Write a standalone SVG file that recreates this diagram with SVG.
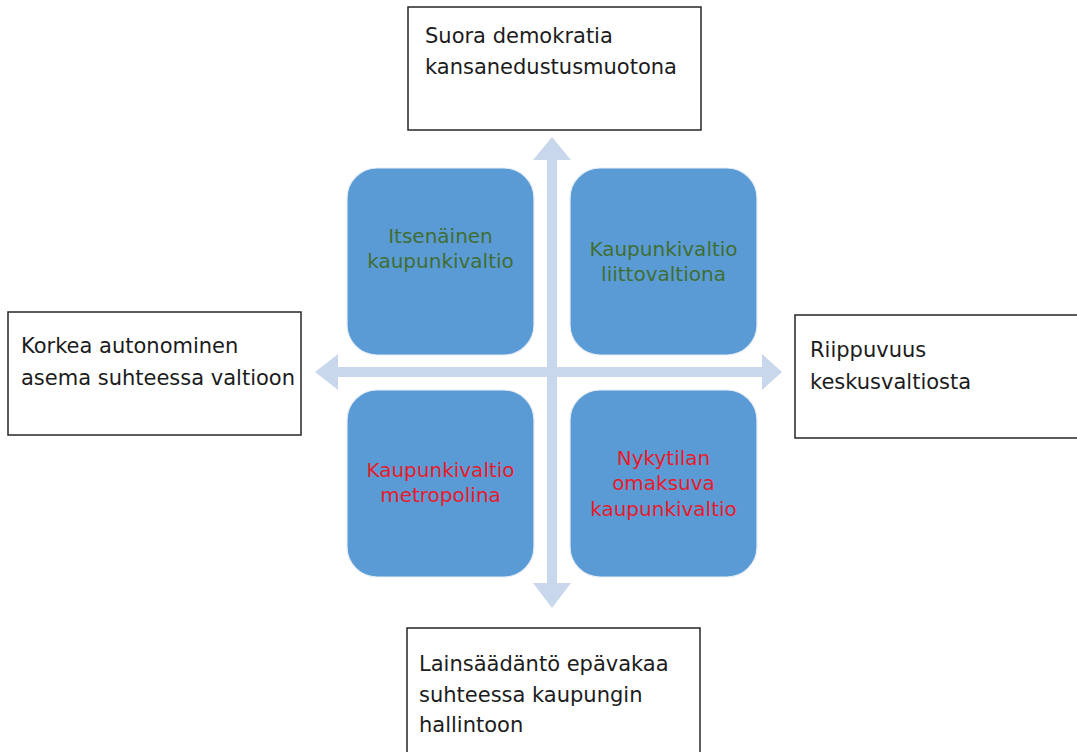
<svg xmlns="http://www.w3.org/2000/svg" width="1077" height="752" viewBox="0 0 1077 752">
<style>
.outer{fill:#ffffff;stroke:#262626;stroke-width:1.5}
.quad{fill:#5b9bd5;stroke:#e8eef7;stroke-width:1.2}
.ot{font-family:"DejaVu Sans",sans-serif;font-size:21px;fill:#1c1c1c}
.qt{font-family:"DejaVu Sans",sans-serif;font-size:20px;text-anchor:middle}
.g{fill:#3f6e33}
.r{fill:#e81a2a}
.arr{fill:#c9d7ec}
</style>
<rect width="1077" height="752" fill="#ffffff"/>
<g id="connectors">
<polygon class="arr" points="547,160 533,160 552,137 571,160 557,160 557,583 571,583 552,608 533,583 547,583"/>
<polygon class="arr" points="338,367 338,354 315,372 338,390 338,377 762,377 762,390 782,372 762,354 762,367"/>
</g>
<g id="q-tl">
<rect class="quad" x="347" y="168" width="187" height="187" rx="30"/>
<text class="qt g" x="440.5" y="243">Itsenäinen</text>
<text class="qt g" x="440.5" y="268">kaupunkivaltio</text>
</g>
<g id="q-tr">
<rect class="quad" x="570" y="168" width="187" height="187" rx="30"/>
<text class="qt g" x="663.5" y="256">Kaupunkivaltio</text>
<text class="qt g" x="663.5" y="281">liittovaltiona</text>
</g>
<g id="q-bl">
<rect class="quad" x="347" y="390" width="187" height="187" rx="30"/>
<text class="qt r" x="440.5" y="477">Kaupunkivaltio</text>
<text class="qt r" x="440.5" y="502">metropolina</text>
</g>
<g id="q-br">
<rect class="quad" x="570" y="390" width="187" height="187" rx="30"/>
<text class="qt r" x="663.5" y="465">Nykytilan</text>
<text class="qt r" x="663.5" y="490">omaksuva</text>
<text class="qt r" x="663.5" y="516">kaupunkivaltio</text>
</g>
<g id="top">
<rect class="outer" x="408" y="7" width="293" height="123"/>
<text class="ot" x="425" y="43">Suora demokratia</text>
<text class="ot" x="425" y="74">kansanedustusmuotona</text>
</g>
<g id="left">
<rect class="outer" x="8" y="312" width="293" height="123"/>
<text class="ot" x="21" y="353">Korkea autonominen</text>
<text class="ot" x="21" y="385">asema suhteessa valtioon</text>
</g>
<g id="right">
<rect class="outer" x="795" y="315" width="290" height="123"/>
<text class="ot" x="810" y="357">Riippuvuus</text>
<text class="ot" x="810" y="389">keskusvaltiosta</text>
</g>
<g id="bottom">
<rect class="outer" x="407" y="628" width="293" height="130"/>
<text class="ot" x="419" y="671">Lainsäädäntö epävakaa</text>
<text class="ot" x="419" y="702">suhteessa kaupungin</text>
<text class="ot" x="419" y="732">hallintoon</text>
</g>
</svg>
